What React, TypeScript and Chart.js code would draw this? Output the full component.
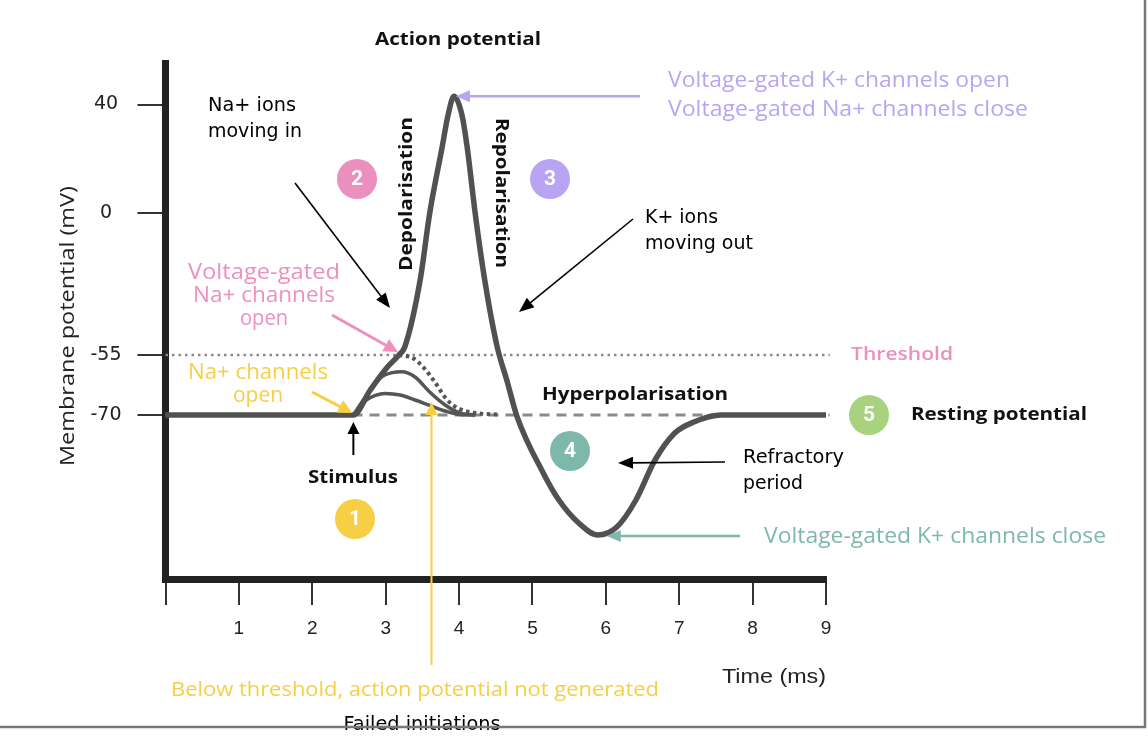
import React, { useEffect, useRef } from 'react';
import { Chart, registerables, LinearScale } from 'chart.js';

Chart.register(...registerables);

// ---------- axis definitions ----------
const X_TICKS = [0, 1, 2, 3, 4, 5, 6, 7, 8, 9];
const Y_TICKS = [40, 0, -55, -70];
// schematic (non-linear) membrane-potential axis: mV knots and their axis units
const Y_KNOT_MV = [-70, -55, 0, 40];
const Y_KNOT_UNITS = [0, 60, 201.7, 310.5];
const Y_MIN_UNITS = -164;
const Y_MAX_UNITS = 352;

// ---------- data (time in ms, potential in mV) ----------
const MAIN_T = [0, 2.56, 2.79, 3.01, 3.18, 3.26, 3.47, 3.6, 3.77, 3.85, 3.93, 4.04, 4.11, 4.22, 4.35, 4.52, 4.65, 4.79, 5.15, 5.36, 5.63, 5.89, 6.15, 6.41, 6.67, 6.94, 7.2, 7.57, 9];
const MAIN_MV = [-70, -70, -63.75, -58.3, -55, -51.9, -25.9, 0, 24.4, 36.1, 43, 36.1, 24.4, 0, -25.9, -51.9, -61.25, -70.4, -84.6, -91.25, -97, -100, -98, -91.25, -81.25, -74.5, -71.75, -70, -70];
const LOW_T = [2.56, 2.74, 2.86, 2.99, 3.2, 3.4, 3.6, 3.81, 4.01, 4.22];
const LOW_MV = [-70, -66.25, -65.1, -64.6, -65, -66.25, -67.6, -69, -69.9, -70];
const MID_T = [2.56, 2.79, 2.95, 3.09, 3.22, 3.4, 3.6, 3.81, 4.01, 4.22];
const MID_MV = [-70, -63.75, -60.4, -59.4, -59.2, -60.5, -64.25, -67.5, -69.5, -70];
const DOT_T = [3.18, 3.37, 3.51, 3.65, 3.84, 4.01, 4.22, 4.56];
const DOT_MV = [-55, -55.75, -58, -61.25, -66.25, -68.5, -69.5, -69.9];
const REF_T = [0, 9.05];
const RESTING_MV = -70;
const THRESHOLD_MV = -55;

// ---------- non-linear scale ----------
function interp(v: number, A: number[], B: number[]): number {
  const n = A.length;
  let i = 0;
  if (v <= A[0]) i = 0;
  else if (v >= A[n - 1]) i = n - 2;
  else { while (v > A[i + 1]) i++; }
  return B[i] + ((v - A[i]) * (B[i + 1] - B[i])) / (A[i + 1] - A[i]);
}
const warp = (v: number) => interp(v, Y_KNOT_MV, Y_KNOT_UNITS);
const unwarp = (u: number) => interp(u, Y_KNOT_UNITS, Y_KNOT_MV);

class WarpScale extends LinearScale {
  static id = 'warp';
  static defaults = LinearScale.defaults;
  getPixelForValue(value: any) {
    return value == null ? NaN : super.getPixelForValue(warp(value));
  }
  getValueForPixel(pixel: number) {
    return unwarp(super.getValueForPixel(pixel) as number);
  }
}
Chart.register(WarpScale as any);

const pts = (T: number[], V: number[]) => T.map((t, i) => ({ x: t, y: V[i] }));

// ---------- annotation styling ----------
const POP = '"Open Sans", sans-serif';
const ARI = '"DejaVu Sans", sans-serif';
const PINK = '#ee8fc0';
const PURPLE = '#b9a4f3';
const YELLOW = '#f6cf45';
const TEAL = '#7db8ab';
const GREEN = '#a9d27f';

type Txt = { s: string; x: number; y: number; f: string; c: string; w?: number; a?: CanvasTextAlign; rot?: number };

const TEXTS: Txt[] = [
  { s: 'Action potential', x: 458, y: 40, f: `bold 18px ${POP}`, c: '#111', w: 166 },
  { s: 'Na+ ions', x: 208, y: 106, f: `19px ${ARI}`, c: '#000', w: 88, a: 'left' },
  { s: 'moving in', x: 208, y: 132, f: `19px ${ARI}`, c: '#000', w: 94, a: 'left' },
  { s: 'Depolarisation', x: 407, y: 194, f: `bold 18px ${POP}`, c: '#111', w: 154, rot: -Math.PI / 2 },
  { s: 'Repolarisation', x: 501, y: 193, f: `bold 18px ${POP}`, c: '#111', w: 150, rot: Math.PI / 2 },
  { s: 'Voltage-gated K+ channels open', x: 668, y: 81, f: `21px ${POP}`, c: PURPLE, w: 342, a: 'left' },
  { s: 'Voltage-gated Na+ channels close', x: 668, y: 110, f: `21px ${POP}`, c: PURPLE, w: 360, a: 'left' },
  { s: 'K+ ions', x: 645, y: 218, f: `19px ${ARI}`, c: '#000', w: 73, a: 'left' },
  { s: 'moving out', x: 645, y: 244, f: `19px ${ARI}`, c: '#000', w: 108, a: 'left' },
  { s: 'Voltage-gated', x: 264, y: 273, f: `21px ${POP}`, c: PINK, w: 152 },
  { s: 'Na+ channels', x: 264, y: 296, f: `21px ${POP}`, c: PINK, w: 142 },
  { s: 'open', x: 264, y: 319, f: `21px ${POP}`, c: PINK, w: 48 },
  { s: 'Na+ channels', x: 258, y: 373, f: `21px ${POP}`, c: YELLOW, w: 140 },
  { s: 'open', x: 258, y: 396, f: `21px ${POP}`, c: YELLOW, w: 50 },
  { s: 'Threshold', x: 851, y: 355, f: `600 18px ${POP}`, c: PINK, w: 102, a: 'left' },
  { s: 'Hyperpolarisation', x: 635, y: 395, f: `bold 18px ${POP}`, c: '#111', w: 186 },
  { s: 'Resting potential', x: 911, y: 415, f: `bold 18px ${POP}`, c: '#111', w: 176, a: 'left' },
  { s: 'Stimulus', x: 353, y: 478, f: `bold 18px ${POP}`, c: '#111', w: 90 },
  { s: 'Refractory', x: 743, y: 458, f: `19px ${ARI}`, c: '#000', w: 101, a: 'left' },
  { s: 'period', x: 743, y: 484, f: `19px ${ARI}`, c: '#000', w: 60, a: 'left' },
  { s: 'Voltage-gated K+ channels close', x: 764, y: 537, f: `21px ${POP}`, c: TEAL, w: 342, a: 'left' },
  { s: 'Membrane potential (mV)', x: 68, y: 326, f: `20px ${POP}`, c: '#222', w: 280, rot: -Math.PI / 2 },
  { s: 'Time (ms)', x: 774, y: 677, f: `20px "Liberation Sans", sans-serif`, c: '#222', w: 104 },
  { s: 'Below threshold, action potential not generated', x: 415, y: 690, f: `20px ${POP}`, c: YELLOW, w: 488 },
  { s: 'Failed initiations', x: 422, y: 725, f: `19px ${ARI}`, c: '#000', w: 157 },
];

const CIRCLES = [
  { n: '1', x: 355, y: 519, c: YELLOW },
  { n: '2', x: 357, y: 179, c: '#eb8fbf' },
  { n: '3', x: 550, y: 179, c: PURPLE },
  { n: '4', x: 570, y: 451, c: TEAL },
  { n: '5', x: 869, y: 415, c: GREEN },
];

function drawText(ctx: CanvasRenderingContext2D, a: Txt) {
  ctx.save();
  ctx.font = a.f;
  ctx.fillStyle = a.c;
  ctx.textBaseline = 'middle';
  ctx.textAlign = a.a || 'center';
  const m = ctx.measureText(a.s).width;
  const sx = a.w ? a.w / m : 1;
  ctx.translate(a.x, a.y);
  if (a.rot) ctx.rotate(a.rot);
  ctx.scale(sx, 1);
  ctx.fillText(a.s, 0, 0);
  ctx.restore();
}

function drawArrow(ctx: CanvasRenderingContext2D, x1: number, y1: number, x2: number, y2: number, color: string, lw: number, hl = 13, hw = 5.5) {
  const ang = Math.atan2(y2 - y1, x2 - x1);
  const c = Math.cos(ang), s = Math.sin(ang);
  ctx.save();
  ctx.strokeStyle = color;
  ctx.fillStyle = color;
  ctx.lineWidth = lw;
  ctx.beginPath();
  ctx.moveTo(x1, y1);
  ctx.lineTo(x2 - c * hl * 0.8, y2 - s * hl * 0.8);
  ctx.stroke();
  ctx.beginPath();
  ctx.moveTo(x2, y2);
  ctx.lineTo(x2 - hl * c + hw * s, y2 - hl * s - hw * c);
  ctx.lineTo(x2 - hl * c - hw * s, y2 - hl * s + hw * c);
  ctx.closePath();
  ctx.fill();
  ctx.restore();
}

const annotationPlugin = {
  id: 'annotations',
  afterDraw(chart: any) {
    const ctx: CanvasRenderingContext2D = chart.ctx;
    const xs = chart.scales.x;
    const ys = chart.scales.y;
    const P = (t: number, v: number) => [xs.getPixelForValue(t), ys.getPixelForValue(v)];

    // arrows
    const [peakX, peakY] = P(MAIN_T[10], MAIN_MV[10]);
    drawArrow(ctx, 640, peakY, peakX + 2, peakY, PURPLE, 2.5, 14, 6);
    const [minX, minY] = P(MAIN_T[21], MAIN_MV[21]);
    drawArrow(ctx, 740, minY + 1, minX + 9, minY + 1, TEAL, 2.5, 14, 6);
    const [stX, stY] = P(MAIN_T[1], MAIN_MV[1]);
    drawArrow(ctx, stX, stY + 40, stX, stY + 7, '#000', 2, 12, 6);
    drawArrow(ctx, 312, 392, stX - 1, stY - 2, YELLOW, 3, 14, 7);
    const [thX, thY] = P(MAIN_T[4], MAIN_MV[4]);
    drawArrow(ctx, 332, 315, thX - 1, thY - 3, PINK, 3, 14, 7);
    drawArrow(ctx, 431.5, 665, 431.5, 402, YELLOW, 2, 13, 6);
    drawArrow(ctx, 295, 183, 390, 308, '#000', 1.6, 15, 6);
    drawArrow(ctx, 633, 219, 519, 312, '#000', 1.6, 15, 6);
    drawArrow(ctx, 725, 462, 618, 463, '#000', 1.6, 15, 6);

    // numbered circles
    for (const c of CIRCLES) {
      ctx.save();
      ctx.fillStyle = c.c;
      ctx.beginPath();
      ctx.arc(c.x, c.y, 20, 0, Math.PI * 2);
      ctx.fill();
      ctx.fillStyle = '#fff';
      ctx.font = 'bold 21px Roboto, sans-serif';
      ctx.textAlign = 'center';
      ctx.textBaseline = 'middle';
      ctx.fillText(c.n, c.x, c.y + 1);
      ctx.restore();
    }

    for (const t of TEXTS) drawText(ctx, t);

    // outer frame (right and bottom)
    ctx.save();
    ctx.strokeStyle = '#777';
    ctx.lineWidth = 2.5;
    ctx.beginPath();
    ctx.moveTo(1145, 0);
    ctx.lineTo(1145, 727);
    ctx.lineTo(0, 727);
    ctx.stroke();
    ctx.restore();
  },
};

export default function App() {
  const ref = useRef<HTMLCanvasElement>(null);
  useEffect(() => {
    const line = { pointRadius: 0, fill: false, cubicInterpolationMode: 'monotone' as const, clip: false as any };
    const chart = new Chart(ref.current as HTMLCanvasElement, {
      type: 'line',
      data: {
        datasets: [
          { ...line, label: 'Action potential', data: pts(MAIN_T, MAIN_MV), borderColor: '#515151', borderWidth: 5.5 },
          { ...line, label: 'Failed initiation (large)', data: pts(MID_T, MID_MV), borderColor: '#555', borderWidth: 3.5 },
          { ...line, label: 'Failed initiation (small)', data: pts(LOW_T, LOW_MV), borderColor: '#555', borderWidth: 3.5 },
          { ...line, label: 'Threshold failure', data: pts(DOT_T, DOT_MV), borderColor: '#555', borderWidth: 4, borderDash: [3.5, 3.5] },
          { ...line, label: 'Resting potential', data: REF_T.map((t) => ({ x: t, y: RESTING_MV })), borderColor: '#8a8a8a', borderWidth: 3, borderDash: [10, 7] },
          { ...line, label: 'Threshold', data: REF_T.map((t) => ({ x: t, y: THRESHOLD_MV })), borderColor: '#8a8a8a', borderWidth: 2.5, borderDash: [2.5, 4] },
        ],
      },
      options: {
        animation: false,
        responsive: true,
        maintainAspectRatio: false,
        events: [],
        layout: { padding: { left: 0, right: 322, top: 63, bottom: 0 } },
        plugins: { legend: { display: false }, tooltip: { enabled: false } },
        scales: {
          x: {
            type: 'linear',
            min: 0,
            max: 9,
            afterBuildTicks: (s: any) => { s.ticks = X_TICKS.map((v) => ({ value: v })); },
            afterFit: (s: any) => { s.height = 157; },
            ticks: {
              callback: (v: any) => (v === 0 ? '' : String(v)),
              font: { family: 'Liberation Sans', size: 19 },
              color: '#222',
              padding: 12,
              maxRotation: 0,
              autoSkip: false,
            },
            grid: { drawOnChartArea: false, drawTicks: true, tickLength: 26, color: '#333', lineWidth: 2 },
            border: { display: true, color: '#222', width: 7 },
          },
          y: {
            type: 'warp' as any,
            min: Y_MIN_UNITS,
            max: Y_MAX_UNITS,
            bounds: 'data',
            afterBuildTicks: (s: any) => { s.ticks = Y_TICKS.map((v) => ({ value: v })); },
            afterFit: (s: any) => { s.width = 165.5; },
            ticks: {
              callback: (v: any) => String(v),
              font: { family: 'DejaVu Sans', size: 19 },
              color: '#222',
              padding: 16,
              crossAlign: 'center',
              autoSkip: false,
            },
            grid: { drawOnChartArea: false, drawTicks: true, tickLength: 28, color: '#333', lineWidth: 2 },
            border: { display: true, color: '#222', width: 7 },
          } as any,
        },
      },
      plugins: [annotationPlugin],
    });
    return () => chart.destroy();
  }, []);
  return (
    <div style={{ position: 'fixed', left: 0, top: 0, width: 1148, height: 736, background: '#fff' }}>
      <canvas ref={ref} />
    </div>
  );
}
